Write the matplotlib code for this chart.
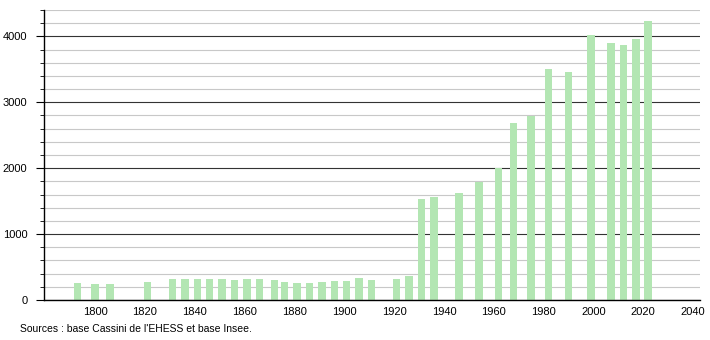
import matplotlib.pyplot as plt
from matplotlib.ticker import MultipleLocator

plt.rcParams["font.family"] = ["Liberation Sans", "DejaVu Sans"]

# census years and population
YEARS = [1793, 1800, 1806, 1821, 1831, 1836, 1841, 1846, 1851, 1856, 1861,
         1866, 1872, 1876, 1881, 1886, 1891, 1896, 1901, 1906, 1911, 1921,
         1926, 1931, 1936, 1946, 1954, 1962, 1968, 1975, 1982, 1990, 1999,
         2007, 2012, 2017, 2022]
POP = [259, 248, 248, 274, 319, 319, 319, 319, 319, 304, 319,
       319, 304, 274, 254, 254, 269, 289, 289, 330, 304, 315,
       370, 1531, 1567, 1623, 1785, 2003, 2687, 2788, 3498, 3463, 4015,
       3904, 3863, 3965, 4233]
XTICKS = list(range(1800, 2041, 20))
YTICKS = [0, 1000, 2000, 3000, 4000]

fig = plt.figure(figsize=(7.1, 3.4), dpi=100)
ax = fig.add_axes([0.062, 0.1176, 0.924, 0.853])

ax.set_xlim(1779.5, 2042.8)
ax.set_ylim(0, 4400)

ax.yaxis.set_minor_locator(MultipleLocator(200))
ax.set_yticks(YTICKS)
ax.grid(axis="y", which="minor", color="#c8c8c8", lw=0.8, zorder=0)
ax.grid(axis="y", which="major", color="#333333", lw=0.8, zorder=0)

ax.bar(YEARS, POP, width=3.0, color="#b3e6b3", zorder=2)

ax.set_xticks(XTICKS)
ax.tick_params(axis="x", length=0, labelsize=8, pad=5)
ax.tick_params(axis="y", which="major", length=6, labelsize=8, pad=6)
ax.tick_params(axis="y", which="minor", length=3)
ax.spines[["top", "right"]].set_visible(False)
ax.spines["left"].set_linewidth(1.0)
ax.spines["bottom"].set_linewidth(1.0)

fig.text(20 / 710, 1 - 329 / 340, "Sources : base Cassini de l'EHESS et base Insee.",
         fontsize=7.5, va="center", ha="left")

fig.savefig("out.png", dpi=100)
